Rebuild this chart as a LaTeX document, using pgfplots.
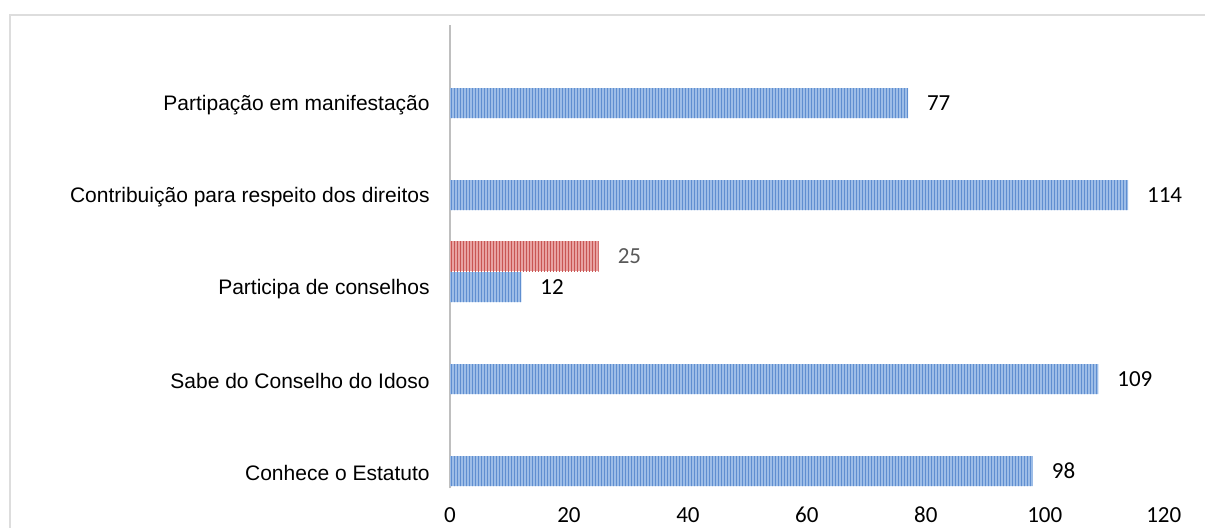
\documentclass[border=0pt]{standalone}
\usepackage{pgfplots}
\pgfplotsset{compat=1.18}
\usepackage{fontspec}
\setmainfont{Liberation Sans}
\newfontfamily\calib{Carlito}
\usetikzlibrary{patterns.meta}
\pgfdeclarepattern{name=vstripes, type=uncolored,
  bottom left={\pgfpoint{0pt}{0pt}}, top right={\pgfpoint{1.6pt}{20pt}},
  tile size={\pgfpoint{1.6pt}{20pt}},
  code={\pgfpathrectangle{\pgfpoint{0pt}{-1pt}}{\pgfpoint{0.6pt}{22pt}}\pgfusepath{fill}}}
\definecolor{bluebase}{HTML}{9DBDE7}
\definecolor{bluestripe}{HTML}{5F8ED0}
\definecolor{redbase}{HTML}{E8A2A1}
\definecolor{redstripe}{HTML}{C85553}
\definecolor{framegray}{HTML}{DDDDDD}
\definecolor{axisgray}{HTML}{BFBFBF}
\definecolor{labgray}{HTML}{595959}
\begin{document}
\begin{tikzpicture}
\path[use as bounding box] (0,0) rectangle (602.5pt,-263.5pt);
\clip (0,0) rectangle (602.5pt,-263.5pt);
\draw[framegray, line width=0.6pt] (5pt,-7.5pt) rectangle (700pt,-400pt);
\begin{axis}[
  at={(225pt,-235.5pt)}, anchor=origin,
  x=2.974pt, y=46pt,
  scale only axis,
  xmin=0, xmax=120, ymin=-0.19, ymax=4.85,
  axis x line*=bottom, axis y line*=left,
  x axis line style={draw=none},
  y axis line style={draw=axisgray, line width=1.2pt, -},
  xtick={0,20,...,120},
  ytick={0,1,2,3,4},
  yticklabels={Conhece o Estatuto, Sabe do Conselho do Idoso, Participa de conselhos, Contribuição para respeito dos direitos, Partipação em manifestação},
  major tick length=0pt,
  tick style={draw=none},
  xticklabel style={font=\calib\fontsize{11.5}{13}\selectfont, anchor=base, inner sep=0pt, yshift=-17pt},
  yticklabel style={font=\fontsize{10.5}{12}\selectfont, anchor=east, inner sep=0pt, xshift=-10pt, yshift=-1pt},
  /pgf/number format/assume math mode=true,
  clip=false,
]
\addplot[xbar, bar width=15pt, bar shift=0pt, draw=none,
  preaction={fill=bluebase}, pattern=vstripes, pattern color=bluestripe,
  nodes near coords, every node near coord/.append style={anchor=west, xshift=6pt, font=\calib\fontsize{11.5}{13}\selectfont, text=black}]
  coordinates {(98,0) (109,1) (12,2) (114,3) (77,4)};
\addplot[xbar, bar width=15pt, bar shift=0pt, draw=none,
  preaction={fill=redbase}, pattern=vstripes, pattern color=redstripe,
  nodes near coords, every node near coord/.append style={anchor=west, xshift=6pt, font=\calib\fontsize{11.5}{13}\selectfont, text=labgray}]
  coordinates {(25,2.337)};
\end{axis}
\end{tikzpicture}
\end{document}
